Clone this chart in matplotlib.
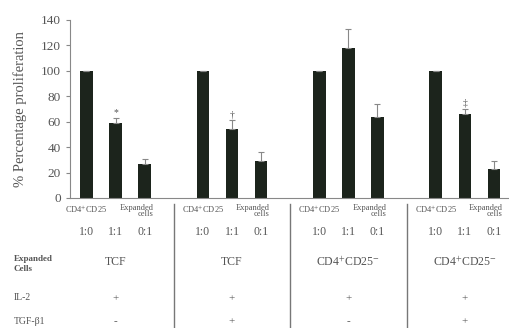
import numpy as np
import matplotlib.pyplot as plt
from matplotlib.transforms import blended_transform_factory
from matplotlib.lines import Line2D

plt.rcParams["font.family"] = "Liberation Serif"
plt.rcParams["mathtext.fontset"] = "stix"

groups = ["TCF", "TCF", r"CD4$^{+}$CD25$^{-}$", r"CD4$^{+}$CD25$^{-}$"]
ratios = ["1:0", "1:1", "0:1"]
values = [[100, 59, 27], [100, 54, 29], [100, 118, 64], [100, 66, 23]]
errors = [[0, 4, 4], [0, 7, 7], [0, 15, 10], [0, 4, 6]]
marks = [["", "*", ""], ["", "†", ""], ["", "", ""], ["", "‡", ""]]
il2 = ["+", "+", "+", "+"]
tgf = ["-", "+", "-", "+"]

W, H = 509, 328
fig = plt.figure(figsize=(W / 100, H / 100), dpi=100)
ax = fig.add_axes([70 / W, 1 - 198 / H, (509 - 70) / W, (198 - 20) / H])

bar_col = "#1c241c"
txt_col = "#555555"

xs, ys, es = [], [], []
for g in range(4):
    for i in range(3):
        xs.append(4 * g + i)
        ys.append(values[g][i])
        es.append(errors[g][i])

ax.bar(xs, ys, width=0.43, color=bar_col)
e = np.array(es)
ax.errorbar(xs, ys, yerr=[np.zeros_like(e), e], fmt="none", ecolor="#888888",
            elinewidth=0.8, capsize=2, capthick=0.8)
for g in range(4):
    for i in range(3):
        if marks[g][i]:
            ax.text(4 * g + i, values[g][i] + errors[g][i] + 1, marks[g][i],
                    ha="center", va="bottom", fontsize=7, color=txt_col)

ax.set_xlim(-0.567, 14.52)
ax.set_ylim(0, 140)
ax.set_yticks(range(0, 141, 20))
ax.set_xticks([])
ax.tick_params(axis="y", labelsize=9.5, labelcolor=txt_col, color="#888888",
               length=3)
for s in ["top", "right"]:
    ax.spines[s].set_visible(False)
ax.spines["left"].set_color("#888888")
ax.spines["bottom"].set_color("#888888")
ax.set_ylabel("% Percentage proliferation", fontsize=10.5, color=txt_col,
              labelpad=10)

# table underneath the bars
tr = blended_transform_factory(ax.transData, fig.transFigure)
fy = lambda py: 1 - py / H
for g in range(4):
    x0 = 4 * g
    ax.text(x0, fy(209), r"CD4$^{+}$CD25", transform=tr, ha="center",
            va="center", fontsize=6, color=txt_col)
    ax.text(x0 + 2.3, fy(211), "Expanded\ncells", transform=tr, ha="right",
            va="center", fontsize=6, color=txt_col, linespacing=0.8,
            multialignment="right")
    for i, r in enumerate(ratios):
        ax.text(x0 + i, fy(232), r, transform=tr, ha="center", va="center",
                fontsize=8.5, color=txt_col)
    ax.text(x0 + 1, fy(262), groups[g], transform=tr, ha="center",
            va="center", fontsize=8.5, color=txt_col)
    ax.text(x0 + 1, fy(299), il2[g], transform=tr, ha="center", va="center",
            fontsize=8, color=txt_col)
    ax.text(x0 + 1, fy(322), tgf[g], transform=tr, ha="center", va="center",
            fontsize=8, color=txt_col)
    if g > 0:
        fig.add_artist(Line2D([x0 - 1, x0 - 1], [fy(204), 0], transform=tr,
                              color="#777777", lw=1.0))

fig.text(14 / W, fy(264), "Expanded\nCells", ha="left", va="center",
         fontsize=6.5, fontweight="bold", color=txt_col, linespacing=1.3)
fig.text(14 / W, fy(298), "IL-2", ha="left", va="center", fontsize=7,
         color=txt_col)
fig.text(14 / W, fy(322), "TGF-β1", ha="left", va="center", fontsize=7,
         color=txt_col)

fig.savefig("out.png", dpi=100)
